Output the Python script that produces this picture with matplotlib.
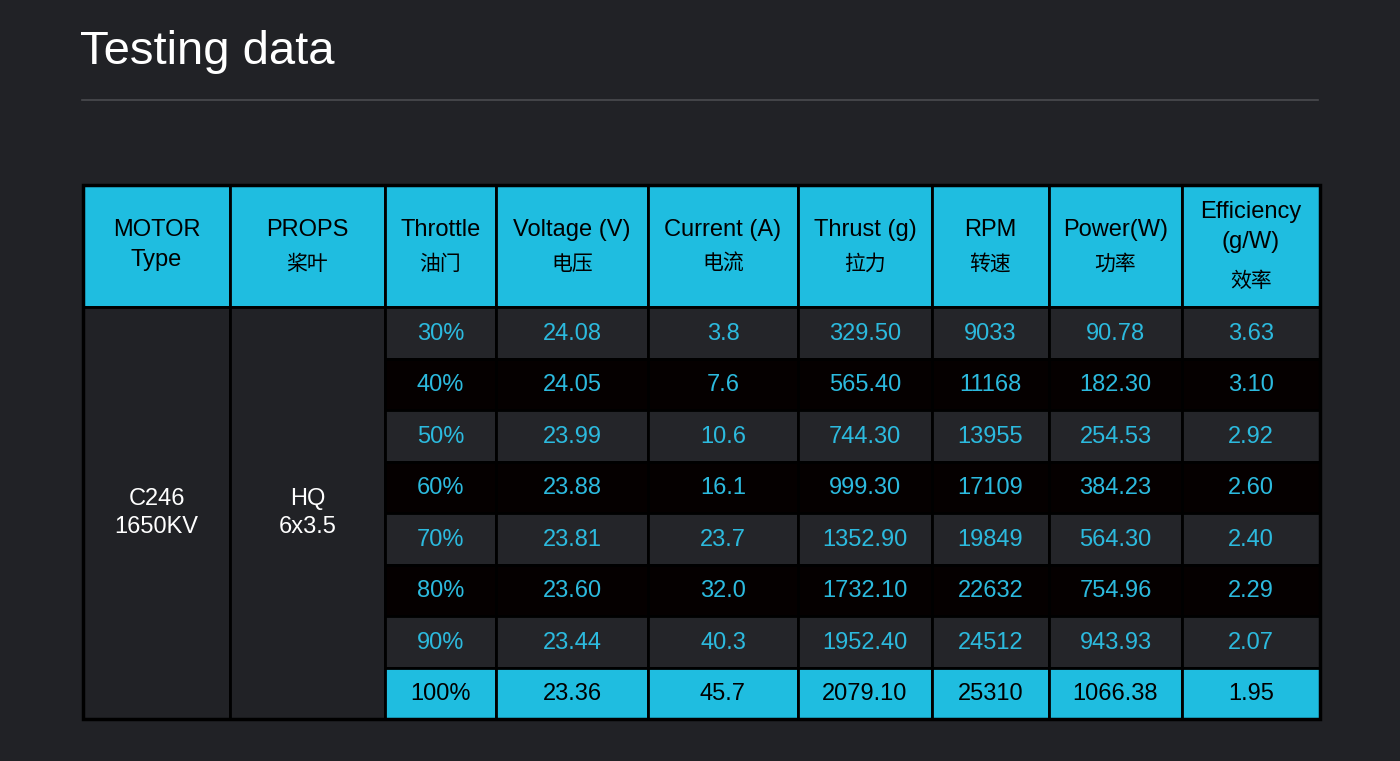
import matplotlib
matplotlib.use("Agg")
import matplotlib.pyplot as plt
from matplotlib.patches import Rectangle

plt.rcParams['font.family'] = ['Liberation Sans', 'Noto Sans CJK SC', 'DejaVu Sans']

title = "Testing data"
headers_en = ["MOTOR\nType", "PROPS", "Throttle", "Voltage (V)", "Current (A)", "Thrust (g)", "RPM", "Power(W)", "Efficiency\n(g/W)"]
headers_cn = ["", "桨叶", "油门", "电压", "电流", "拉力", "转速", "功率", "效率"]
motor = "C246\n1650KV"
props = "HQ\n6x3.5"
throttle = ["30%", "40%", "50%", "60%", "70%", "80%", "90%", "100%"]
voltage = ["24.08", "24.05", "23.99", "23.88", "23.81", "23.60", "23.44", "23.36"]
current = ["3.8", "7.6", "10.6", "16.1", "23.7", "32.0", "40.3", "45.7"]
thrust = ["329.50", "565.40", "744.30", "999.30", "1352.90", "1732.10", "1952.40", "2079.10"]
rpm = ["9033", "11168", "13955", "17109", "19849", "22632", "24512", "25310"]
power = ["90.78", "182.30", "254.53", "384.23", "564.30", "754.96", "943.93", "1066.38"]
eff = ["3.63", "3.10", "2.92", "2.60", "2.40", "2.29", "2.07", "1.95"]

BG = "#212226"
CYAN = "#1fbde0"
TXT = "#2cbade"

fig = plt.figure(figsize=(14, 7.61), dpi=100, facecolor=BG)
ax = fig.add_axes([0, 0, 1, 1])
ax.set_xlim(0, 1400); ax.set_ylim(761, 0); ax.axis('off')
ax.set_facecolor(BG)

ax.text(80, 52, title, color='white', fontsize=34, va='center', ha='left')
ax.plot([82, 1318], [100, 100], color='#4a4b4f', lw=1.2)

xs = [83, 230, 385, 496, 648, 798, 932, 1049, 1182, 1320]
y0, yh = 185, 307
rows = [307 + i * (719 - 307) / 8 for i in range(9)]

# header
for i in range(9):
    ax.add_patch(Rectangle((xs[i], y0), xs[i+1]-xs[i], yh-y0, fc=CYAN, ec='black', lw=2))
    cx = (xs[i] + xs[i+1]) / 2
    if headers_cn[i]:
        ax.text(cx, 230 if i < 8 else 227, headers_en[i], ha='center', va='center', fontsize=17, color='black', linespacing=1.5)
        ax.text(cx, 264 if i < 8 else 281, headers_cn[i], ha='center', va='center', fontsize=15, color='black')
    else:
        ax.text(cx, 245, headers_en[i], ha='center', va='center', fontsize=17, color='black', linespacing=1.45)

# merged cells
for i, t in enumerate([motor, props]):
    ax.add_patch(Rectangle((xs[i], rows[0]), xs[i+1]-xs[i], rows[-1]-rows[0], fc=BG, ec='black', lw=2))
    ax.text((xs[i]+xs[i+1])/2, 513, t, ha='center', va='center', fontsize=17, color='white', linespacing=1.3)

cols = [throttle, voltage, current, thrust, rpm, power, eff]
for r in range(8):
    if r == 7:
        fc, tc = CYAN, 'black'
    elif r % 2 == 1:
        fc, tc = '#050000', TXT
    else:
        fc, tc = '#242529', TXT
    for c in range(7):
        x0, x1 = xs[c+2], xs[c+3]
        ax.add_patch(Rectangle((x0, rows[r]), x1-x0, rows[r+1]-rows[r], fc=fc, ec='black', lw=2))
        ax.text((x0+x1)/2, (rows[r]+rows[r+1])/2 + 1, cols[c][r], ha='center', va='center', fontsize=17, color=tc)

ax.add_patch(Rectangle((xs[0], y0), xs[-1]-xs[0], rows[-1]-y0, fc='none', ec='black', lw=2.5))
fig.savefig("out.png", dpi=100, facecolor=BG)
